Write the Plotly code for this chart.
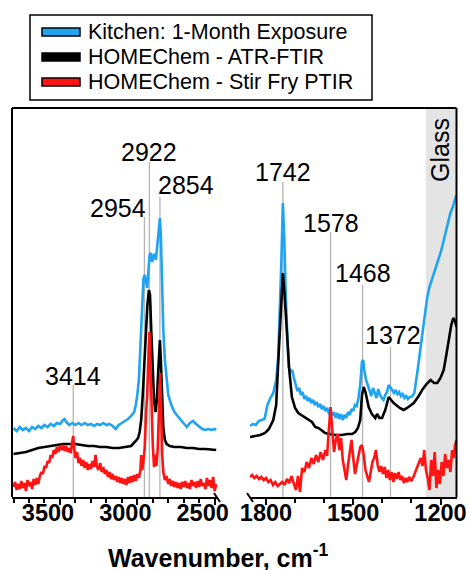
import plotly.graph_objects as go

# ---------------- data (absorbance, arbitrary offset units) ----------------
# Left panel (3800-2490 cm-1)
left_wn_blue = [3800, 3780, 3760, 3740, 3720, 3700, 3680, 3660, 3640, 3620, 3600, 3580, 3560, 3540,
                3520, 3500, 3480, 3470, 3460, 3440, 3420, 3400, 3380, 3360, 3340, 3320, 3300, 3280,
                3260, 3240, 3220, 3200, 3180, 3160, 3140, 3120, 3100, 3080, 3060, 3040, 3020, 3010,
                3000, 2990, 2980, 2970, 2960, 2952, 2944, 2936, 2928, 2920, 2912, 2904, 2896, 2888,
                2880, 2872, 2864, 2858, 2854, 2848, 2840, 2832, 2822, 2812, 2800, 2780, 2760, 2740,
                2720, 2700, 2680, 2660, 2640, 2620, 2600, 2580, 2560, 2540, 2520, 2500, 2490]
left_abs_blue = [0.69, 0.66, 0.70, 0.67, 0.69, 0.66, 0.70, 0.68, 0.71, 0.69, 0.72, 0.70, 0.73, 0.71,
                 0.74, 0.73, 0.77, 0.78, 0.75, 0.72, 0.74, 0.72, 0.74, 0.72, 0.74, 0.72, 0.73, 0.71,
                 0.73, 0.72, 0.74, 0.72, 0.73, 0.71, 0.68, 0.72, 0.74, 0.76, 0.78, 0.81, 0.85, 0.92,
                 1.02, 1.17, 1.57, 1.97, 2.19, 2.22, 2.17, 2.09, 2.27, 2.42, 2.44, 2.35, 2.41, 2.43,
                 2.37, 2.49, 2.57, 2.72, 2.79, 2.62, 2.07, 1.67, 1.37, 1.17, 1.02, 0.92, 0.85, 0.81,
                 0.77, 0.73, 0.70, 0.74, 0.76, 0.73, 0.70, 0.68, 0.67, 0.68, 0.67, 0.68, 0.67]

left_wn_black = [3800, 3760, 3720, 3680, 3640, 3600, 3560, 3520, 3480, 3440, 3400, 3360, 3320, 3280,
                 3240, 3200, 3160, 3120, 3080, 3040, 3010, 2995, 2985, 2975, 2965, 2955, 2945, 2935,
                 2925, 2918, 2910, 2902, 2892, 2882, 2874, 2866, 2860, 2854, 2848, 2840, 2832, 2822,
                 2810, 2790, 2760, 2720, 2680, 2640, 2600, 2560, 2520, 2490]
left_abs_black = [0.43, 0.44, 0.45, 0.47, 0.49, 0.50, 0.51, 0.52, 0.53, 0.53, 0.53, 0.52, 0.51, 0.51,
                  0.50, 0.50, 0.49, 0.49, 0.50, 0.51, 0.56, 0.59, 0.65, 0.77, 1.02, 1.32, 1.64, 1.92,
                  2.07, 2.02, 1.67, 1.30, 0.97, 0.85, 0.97, 1.22, 1.47, 1.57, 1.37, 0.92, 0.69, 0.57,
                  0.53, 0.51, 0.50, 0.50, 0.49, 0.49, 0.48, 0.48, 0.47, 0.47]

left_wn_red = [3800, 3790, 3780, 3770, 3760, 3750, 3740, 3730, 3720, 3710, 3700, 3690, 3680, 3670,
               3660, 3650, 3640, 3630, 3620, 3610, 3600, 3590, 3580, 3570, 3560, 3550, 3540, 3530,
               3520, 3510, 3500, 3490, 3480, 3470, 3460, 3450, 3440, 3430, 3420, 3414, 3408, 3400,
               3390, 3380, 3370, 3360, 3350, 3340, 3330, 3320, 3310, 3300, 3290, 3280, 3270, 3262,
               3252, 3240, 3230, 3220, 3210, 3200, 3190, 3180, 3170, 3160, 3150, 3140, 3130, 3120,
               3110, 3100, 3090, 3080, 3070, 3060, 3050, 3040, 3030, 3020, 3010, 3000, 2990, 2980,
               2975, 2968, 2960, 2952, 2944, 2936, 2928, 2922, 2916, 2908, 2900, 2892, 2884, 2876,
               2868, 2862, 2856, 2852, 2846, 2840, 2832, 2822, 2812, 2800, 2790, 2780, 2770, 2760,
               2750, 2740, 2730, 2720, 2710, 2700, 2690, 2680, 2670, 2660, 2650, 2640, 2630, 2620,
               2610, 2600, 2590, 2580, 2570, 2560, 2550, 2540, 2530, 2520, 2510, 2500, 2490]
left_abs_red = [0.10, 0.15, 0.07, 0.13, 0.08, 0.16, 0.09, 0.14, 0.06, 0.17, 0.11, 0.15, 0.08, 0.18,
                0.12, 0.19, 0.13, 0.21, 0.25, 0.23, 0.31, 0.29, 0.36, 0.34, 0.42, 0.39, 0.47, 0.43,
                0.50, 0.45, 0.51, 0.47, 0.52, 0.46, 0.51, 0.45, 0.49, 0.44, 0.56, 0.61, 0.49, 0.39,
                0.45, 0.34, 0.39, 0.31, 0.37, 0.29, 0.35, 0.27, 0.33, 0.28, 0.36, 0.30, 0.42, 0.31,
                0.27, 0.34, 0.25, 0.30, 0.23, 0.27, 0.20, 0.25, 0.18, 0.23, 0.17, 0.21, 0.15, 0.20,
                0.14, 0.19, 0.13, 0.18, 0.12, 0.20, 0.14, 0.21, 0.15, 0.22, 0.16, 0.23, 0.19, 0.27,
                0.42, 0.27, 0.37, 0.49, 0.82, 1.02, 1.42, 1.65, 1.37, 0.80, 0.52, 0.30, 0.42, 0.31,
                0.49, 0.77, 1.17, 1.24, 0.87, 0.44, 0.25, 0.17, 0.21, 0.13, 0.18, 0.11, 0.16, 0.10,
                0.15, 0.09, 0.14, 0.08, 0.15, 0.10, 0.16, 0.09, 0.14, 0.08, 0.17, 0.11, 0.15, 0.09,
                0.16, 0.10, 0.18, 0.11, 0.14, 0.08, 0.19, 0.11, 0.17, 0.09, 0.20, 0.06, 0.13]

# Right panel (1855-1145 cm-1)
right_wn_blue = [1855, 1845, 1835, 1825, 1815, 1805, 1795, 1785, 1775, 1765, 1758, 1752, 1747, 1742,
                 1737, 1732, 1727, 1722, 1716, 1710, 1704, 1698, 1692, 1686, 1680, 1674, 1668, 1662,
                 1656, 1650, 1644, 1638, 1632, 1626, 1620, 1614, 1608, 1602, 1596, 1590, 1584, 1578,
                 1572, 1566, 1560, 1554, 1548, 1542, 1536, 1530, 1524, 1518, 1512, 1506, 1500, 1494,
                 1488, 1482, 1476, 1470, 1466, 1462, 1456, 1450, 1444, 1438, 1432, 1426, 1420, 1414,
                 1408, 1402, 1396, 1390, 1384, 1378, 1372, 1366, 1360, 1354, 1348, 1342, 1336, 1330,
                 1324, 1318, 1312, 1306, 1300, 1290, 1280, 1272, 1263, 1255, 1246, 1238, 1230, 1223,
                 1215, 1208, 1200, 1192, 1183, 1175, 1166, 1158, 1150, 1145]
right_abs_blue = [0.71, 0.73, 0.72, 0.76, 0.77, 0.78, 0.92, 0.99, 1.04, 1.17, 1.40, 1.87, 2.37, 2.94,
                  2.57, 2.00, 1.57, 1.30, 1.25, 1.27, 1.19, 1.13, 1.06, 1.09, 1.02, 1.05, 0.98, 1.01,
                  0.96, 0.99, 0.94, 0.97, 0.92, 0.95, 0.90, 0.93, 0.88, 0.91, 0.86, 0.89, 0.84, 0.86,
                  0.81, 0.85, 0.79, 0.84, 0.78, 0.83, 0.77, 0.82, 0.79, 0.85, 0.82, 0.88, 0.86, 0.92,
                  0.91, 0.99, 1.12, 1.35, 1.37, 1.27, 1.17, 1.12, 1.05, 1.01, 1.09, 1.03, 0.99, 1.08,
                  1.02, 0.99, 0.97, 1.02, 1.05, 1.12, 1.10, 1.07, 1.04, 1.07, 1.03, 1.05, 1.01, 1.03,
                  0.99, 1.01, 0.98, 1.00, 1.00, 1.04, 1.24, 1.42, 1.60, 1.82, 1.99, 2.10, 2.17, 2.24,
                  2.29, 2.37, 2.44, 2.53, 2.64, 2.72, 2.84, 2.90, 2.97, 3.02]

right_wn_black = [1855, 1840, 1820, 1803, 1790, 1775, 1765, 1758, 1752, 1748, 1742, 1736, 1729, 1720,
                  1711, 1700, 1689, 1670, 1654, 1642, 1631, 1620, 1610, 1597, 1580, 1562, 1540, 1520,
                  1504, 1493, 1484, 1476, 1470, 1464, 1458, 1447, 1436, 1424, 1418, 1410, 1401, 1390,
                  1378, 1370, 1361, 1340, 1327, 1315, 1292, 1275, 1263, 1248, 1234, 1222, 1211, 1200,
                  1189, 1180, 1171, 1163, 1156, 1150, 1145]
right_abs_black = [0.60, 0.61, 0.62, 0.64, 0.68, 0.77, 0.92, 1.34, 1.67, 1.84, 2.24, 2.02, 1.67, 1.27,
                   1.00, 0.89, 0.84, 0.80, 0.77, 0.75, 0.70, 0.69, 0.67, 0.64, 0.63, 0.62, 0.62, 0.63,
                   0.63, 0.65, 0.69, 0.77, 1.02, 1.10, 1.05, 0.90, 0.83, 0.79, 0.83, 0.79, 0.79, 0.87,
                   1.00, 0.97, 0.94, 0.89, 0.87, 0.89, 0.94, 1.01, 1.07, 1.13, 1.17, 1.14, 1.14, 1.19,
                   1.27, 1.42, 1.57, 1.72, 1.79, 1.76, 1.70]

right_wn_red = [1855, 1848, 1840, 1832, 1824, 1816, 1808, 1800, 1792, 1784, 1776, 1768, 1760, 1752,
                1744, 1736, 1728, 1720, 1712, 1704, 1697, 1690, 1683, 1676, 1668, 1660, 1652, 1644,
                1636, 1628, 1620, 1612, 1604, 1596, 1590, 1584, 1578, 1572, 1566, 1560, 1554, 1548,
                1542, 1536, 1530, 1524, 1518, 1512, 1506, 1500, 1494, 1488, 1482, 1476, 1470, 1464,
                1458, 1452, 1446, 1440, 1434, 1428, 1422, 1416, 1410, 1404, 1398, 1392, 1386, 1380,
                1374, 1368, 1362, 1356, 1350, 1344, 1338, 1332, 1326, 1320, 1314, 1308, 1300, 1292,
                1284, 1276, 1268, 1262, 1256, 1250, 1244, 1238, 1232, 1226, 1220, 1214, 1208, 1202,
                1196, 1190, 1184, 1178, 1172, 1166, 1160, 1154, 1150, 1145]
right_abs_red = [0.20, 0.22, 0.19, 0.21, 0.18, 0.20, 0.17, 0.19, 0.15, 0.17, 0.12, 0.15, 0.11, 0.13,
                 0.15, 0.12, 0.18, 0.14, 0.21, 0.13, 0.07, 0.21, 0.05, 0.29, 0.25, 0.35, 0.29, 0.39,
                 0.33, 0.42, 0.35, 0.45, 0.37, 0.47, 0.41, 0.67, 0.90, 0.67, 0.45, 0.57, 0.63, 0.47,
                 0.59, 0.37, 0.27, 0.17, 0.32, 0.45, 0.57, 0.39, 0.23, 0.32, 0.42, 0.50, 0.52, 0.42,
                 0.27, 0.21, 0.15, 0.25, 0.35, 0.39, 0.47, 0.32, 0.25, 0.31, 0.23, 0.30, 0.19, 0.27,
                 0.17, 0.25, 0.15, 0.24, 0.18, 0.25, 0.17, 0.21, 0.14, 0.19, 0.15, 0.20, 0.16, 0.21,
                 0.27, 0.33, 0.39, 0.31, 0.47, 0.27, 0.19, 0.07, 0.37, 0.21, 0.45, 0.09, 0.27, 0.13,
                 0.35, 0.21, 0.43, 0.29, 0.37, 0.25, 0.47, 0.39, 0.52, 0.57]

# peak markers: wavenumber, top of guide line, label height
left_peaks = [3414, 2954, 2922, 2854]
left_peak_top = [1.12, 2.80, 3.35, 3.00]
left_label_y = [1.21, 2.89, 3.45, 3.12]
right_peaks = [1742, 1578, 1468, 1372]
right_peak_top = [3.15, 2.65, 2.12, 1.50]
right_label_y = [3.25, 2.74, 2.24, 1.62]

series_names = ["Kitchen: 1-Month Exposure", "HOMEChem - ATR-FTIR", "HOMEChem - Stir Fry PTIR"]
series_colors = ["#1ea4f2", "#000000", "#ff1414"]

left_ticks = [3500, 3000, 2500]
right_ticks = [1800, 1500, 1200]
left_minor = [3800, 3700, 3600, 3400, 3300, 3200, 3100, 2900, 2800, 2700, 2600]
right_minor = [1700, 1600, 1400, 1300]
glass_range = [1250, 1145]

# ---------------- layout geometry ----------------
W, H = 470, 570
def px(x):
    return x / W
def py(y):
    return 1 - y / H

y_bot, y_top = py(497), py(108)
FONT = "Liberation Sans, Arial, sans-serif"

fig = go.Figure()
left_data = [(left_wn_blue, left_abs_blue), (left_wn_black, left_abs_black), (left_wn_red, left_abs_red)]
right_data = [(right_wn_blue, right_abs_blue), (right_wn_black, right_abs_black), (right_wn_red, right_abs_red)]
for (xv, yv), c, n in zip(left_data, series_colors, series_names):
    fig.add_trace(go.Scatter(x=xv, y=yv, mode="lines", name=n, xaxis="x", yaxis="y",
                             line=dict(color=c, width=2.6), showlegend=False))
for (xv, yv), c, n in zip(right_data, series_colors, series_names):
    fig.add_trace(go.Scatter(x=xv, y=yv, mode="lines", name=n, xaxis="x2", yaxis="y2",
                             line=dict(color=c, width=2.6), showlegend=False))

shapes = []
annotations = []

# glass band
shapes.append(dict(type="rect", xref="x2", yref="paper", x0=glass_range[0], x1=glass_range[1],
                   y0=y_bot, y1=y_top, fillcolor="#e4e4e4", line=dict(width=0), layer="below"))

# guide lines + labels
def add_peaks(peaks, tops, labs, xr, yr):
    for wn, t, ly in zip(peaks, tops, labs):
        shapes.append(dict(type="line", xref=xr, yref=yr, x0=wn, x1=wn, y0=0, y1=t,
                           line=dict(color="#b4b4b4", width=1.3), layer="below"))
        anchor, shift = "center", 0
        if wn == 2954:
            anchor, shift = "right", 4
        elif wn == 2854:
            anchor, shift = "left", -4
        elif wn == 1372:
            shift = 3
        annotations.append(dict(xref=xr, yref=yr, x=wn, y=ly, text=str(wn), showarrow=False,
                                xanchor=anchor, yanchor="middle", xshift=shift,
                                font=dict(family=FONT, size=25, color="black")))

add_peaks(left_peaks, left_peak_top, left_label_y, "x", "y")
add_peaks(right_peaks, right_peak_top, right_label_y, "x2", "y2")

# frame (top, left, right)
frame = dict(color="black", width=2)
shapes.append(dict(type="line", xref="paper", yref="paper", x0=px(12), x1=px(456.5), y0=y_top, y1=y_top, line=frame))
shapes.append(dict(type="line", xref="paper", yref="paper", x0=px(12), x1=px(12), y0=y_bot, y1=y_top, line=frame))
shapes.append(dict(type="line", xref="paper", yref="paper", x0=px(456.5), x1=px(456.5), y0=y_bot, y1=y_top, line=frame))
# axis break marks
shapes.append(dict(type="line", xref="paper", yref="paper", x0=px(214), x1=px(220), y0=py(493), y1=py(502), line=frame))
shapes.append(dict(type="line", xref="paper", yref="paper", x0=px(247), x1=px(253), y0=py(493), y1=py(502), line=frame))

# manual legend
shapes.append(dict(type="rect", xref="paper", yref="paper", x0=px(30), x1=px(372), y0=py(100), y1=py(15),
                   line=dict(color="black", width=1.5), fillcolor="white"))
for i, (n, c) in enumerate(zip(series_names, series_colors)):
    yc = 32 + 25 * i
    shapes.append(dict(type="rect", xref="paper", yref="paper", x0=px(42), x1=px(80),
                       y0=py(yc + 4), y1=py(yc - 4), fillcolor=c, line=dict(color="black", width=1.5)))
    annotations.append(dict(xref="paper", yref="paper", x=px(86), y=py(yc), text=n, showarrow=False,
                            xanchor="left", yanchor="middle", font=dict(family=FONT, size=21.5, color="black")))

# Glass label
annotations.append(dict(xref="paper", yref="paper", x=px(440), y=py(150), text="Glass", textangle=-90,
                        showarrow=False, xanchor="center", yanchor="middle",
                        font=dict(family=FONT, size=25, color="black")))
# x title
annotations.append(dict(xref="paper", yref="paper", x=px(218), y=py(556), text="Wavenumber, cm<sup>-1</sup>",
                        showarrow=False, xanchor="center", yanchor="middle",
                        font=dict(family=FONT, size=25, color="black", weight="bold")))

axis_common = dict(showgrid=False, zeroline=False, showline=True, linecolor="black", linewidth=2,
                   ticks="outside", ticklen=6, tickwidth=2, tickcolor="black", automargin=False,
                   ticklabelstandoff=-12,
                   tickfont=dict(family=FONT, size=23.5, color="black", weight="bold"))

fig.update_layout(
    width=W, height=H, autosize=False, margin=dict(l=0, r=0, t=0, b=0),
    paper_bgcolor="white", plot_bgcolor="white", showlegend=False,
    xaxis=dict(domain=[px(12), px(217)], range=[3810, 2485], tickvals=left_ticks,
               ticktext=[str(t) for t in left_ticks], anchor="y", ticklabelshift=12,
               minor=dict(tickvals=left_minor, ticks="outside", ticklen=4, tickwidth=1.5, tickcolor="black"),
               **axis_common),
    xaxis2=dict(domain=[px(250), px(456.5)], range=[1855, 1145], tickvals=right_ticks,
                ticktext=[str(t) for t in right_ticks], anchor="y2",
                minor=dict(tickvals=right_minor, ticks="outside", ticklen=4, tickwidth=1.5, tickcolor="black"),
                **axis_common),
    yaxis=dict(domain=[y_bot, y_top], range=[0, 3.89], visible=False, anchor="x", automargin=False),
    yaxis2=dict(domain=[y_bot, y_top], range=[0, 3.89], visible=False, anchor="x2", automargin=False),
    shapes=shapes, annotations=annotations,
)

fig.write_html("out.html", config={"responsive": False})
